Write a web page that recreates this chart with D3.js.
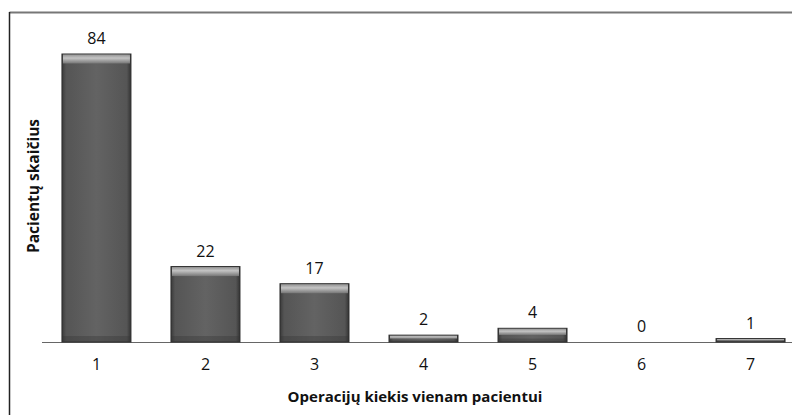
<!DOCTYPE html>
<html><head><meta charset="utf-8">
<script src="https://cdn.jsdelivr.net/npm/d3@7"></script>
<style>body{margin:0;background:#fff}svg{display:block}text{font-family:"Open Sans",Carlito,Calibri,sans-serif}</style>
</head><body>
<script>
const categories = ["1","2","3","4","5","6","7"];
const values = [84,22,17,2,4,0,1];
const xTitle = "Operacijų kiekis vienam pacientui";
const yTitle = "Pacientų skaičius";

const W = 792, H = 415;
const svg = d3.select("body").append("svg").attr("width", W).attr("height", H);
const defs = svg.append("defs");

const hg = defs.append("linearGradient").attr("id","hg").attr("x1","0").attr("x2","1").attr("y1","0").attr("y2","0");
[[0,"#3a3a3a"],[0.06,"#555"],[0.5,"#636363"],[0.94,"#555"],[1,"#333"]].forEach(s=>hg.append("stop").attr("offset",s[0]).attr("stop-color",s[1]));
const tg = defs.append("linearGradient").attr("id","tg").attr("x1","0").attr("x2","0").attr("y1","0").attr("y2","1");
[[0,"#9a9a9a"],[0.4,"#cfcfcf"],[1,"#7a7a7a"]].forEach(s=>tg.append("stop").attr("offset",s[0]).attr("stop-color",s[1]));

// frame
svg.append("line").attr("x1",9.5).attr("x2",W).attr("y1",12.5).attr("y2",12.5).attr("stroke","#777").attr("stroke-width",2);
svg.append("line").attr("x1",9.5).attr("x2",9.5).attr("y1",12).attr("y2",H).attr("stroke","#222").attr("stroke-width",1.5);

const x = d3.scaleBand().domain(categories).range([42, 805]).paddingInner(0.367).paddingOuter(0.183);
const y = d3.scaleLinear().domain([0, 84]).range([342, 54]);

// baseline
svg.append("line").attr("x1",42).attr("x2",W).attr("y1",342.5).attr("y2",342.5).attr("stroke","#666").attr("stroke-width",1);

const g = svg.append("g");
categories.forEach((c,i)=>{
  const v = values[i];
  if (v <= 0) return;
  const x0 = x(c), bw = x.bandwidth(), y0 = y(v), h = y(0)-y(v);
  g.append("rect").attr("x",x0).attr("y",y0).attr("width",bw).attr("height",h)
    .attr("fill","url(#hg)").attr("stroke","#2e2e2e").attr("stroke-width",1);
  const th = Math.min(9, h*0.45);
  g.append("rect").attr("x",x0+1).attr("y",y0+0.5).attr("width",bw-2).attr("height",th)
    .attr("fill","url(#tg)").attr("opacity",0.9);
  const bh = Math.min(6, h*0.25);
  g.append("rect").attr("x",x0+0.5).attr("y",y(0)-bh).attr("width",bw-1).attr("height",bh)
    .attr("fill","#333").attr("opacity",0.35);
});

// value labels
svg.append("g").selectAll("text").data(categories).join("text")
  .attr("x",c=>x(c)+x.bandwidth()/2).attr("y",(c,i)=>y(values[i])-10)
  .attr("text-anchor","middle").attr("font-size",16).attr("fill","#111")
  .text((c,i)=>values[i]);

// x axis
const ax = svg.append("g").attr("transform","translate(0,342)").call(d3.axisBottom(x).tickSize(0).tickPadding(17));
ax.select(".domain").remove();
ax.selectAll("text").attr("font-size",16).attr("fill","#111").style("font-family","'Open Sans',sans-serif");

svg.append("text").attr("x",415).attr("y",402).attr("text-anchor","middle")
  .attr("font-size",15).attr("font-weight","bold").attr("fill","#111").text(xTitle);
svg.append("text").attr("transform","translate(39,186) rotate(-90)").attr("text-anchor","middle")
  .attr("font-size",15.5).attr("font-weight","bold").attr("fill","#111").text(yTitle);
</script>
</body></html>
